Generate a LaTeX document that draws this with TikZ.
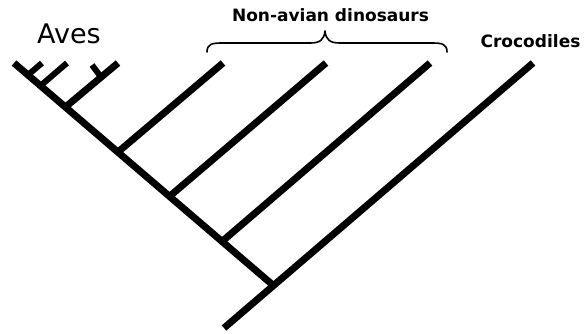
\documentclass[tikz,border=0pt]{standalone}
\usepackage{fontspec}
\newfontfamily\labfont{DejaVu Sans}
\begin{document}
\begin{tikzpicture}[x=1pt,y=-1pt,
  branch/.style={line width=7pt, line cap=butt, line join=miter},
  thinbr/.style={line width=6pt, line cap=butt},
  brace/.style={line width=1.6pt, line cap=round, line join=round},
  boldlab/.style={font=\labfont\bfseries\fontsize{17}{19}\selectfont, anchor=base, inner sep=0pt},
  avlab/.style={font=\labfont\fontsize{27}{30}\selectfont, anchor=base, inner sep=0pt}]
\useasboundingbox (0,0) rectangle (584,333);
% coordinates
\coordinate (s0) at (14,63);
\coordinate (b1) at (28,75);   \coordinate (t1) at (42,63);
\coordinate (b2) at (40.5,85.7); \coordinate (t2) at (67,63);
\coordinate (b3) at (65.5,107); \coordinate (t3) at (118,63);
\coordinate (b3s) at (101,77); \coordinate (t3s) at (92,65);
\coordinate (bd1) at (118,152); \coordinate (td1) at (223,63);
\coordinate (bd2) at (169.5,196.4); \coordinate (td2) at (326,63);
\coordinate (bd3) at (222,241.5); \coordinate (td3) at (430,63);
\coordinate (bc) at (273.5,285.6); \coordinate (tc) at (533,63);
\coordinate (root) at (224,328);
% tree
\draw[branch] (s0) -- (bc);
\draw[branch] (root) -- (tc);
\draw[thinbr] (b1) -- (t1);
\draw[thinbr] (b2) -- (t2);
\draw[branch] (b3) -- (t3);
\draw[thinbr] (b3s) -- (t3s);
\draw[branch] (bd1) -- (td1);
\draw[branch] (bd2) -- (td2);
\draw[branch] (bd3) -- (td3);
% brace
\coordinate (brL) at (207,52);
\coordinate (brM) at (325,31);
\coordinate (brR) at (447,52);
\draw[brace] (brL) .. controls (207,44) and (212,43) .. (222,43) -- (310,43)
  .. controls (320,43) and (324,40) .. (brM)
  .. controls (326,40) and (330,43) .. (340,43) -- (432,43)
  .. controls (442,43) and (447,44) .. (brR);
% labels
\node[boldlab] (nad) at (330.5,21) {Non-avian dinosaurs};
\node[boldlab] (croc) at (530.5,47) {Crocodiles};
\node[avlab] (aves) at (69,43) {Aves};
\end{tikzpicture}
\end{document}
